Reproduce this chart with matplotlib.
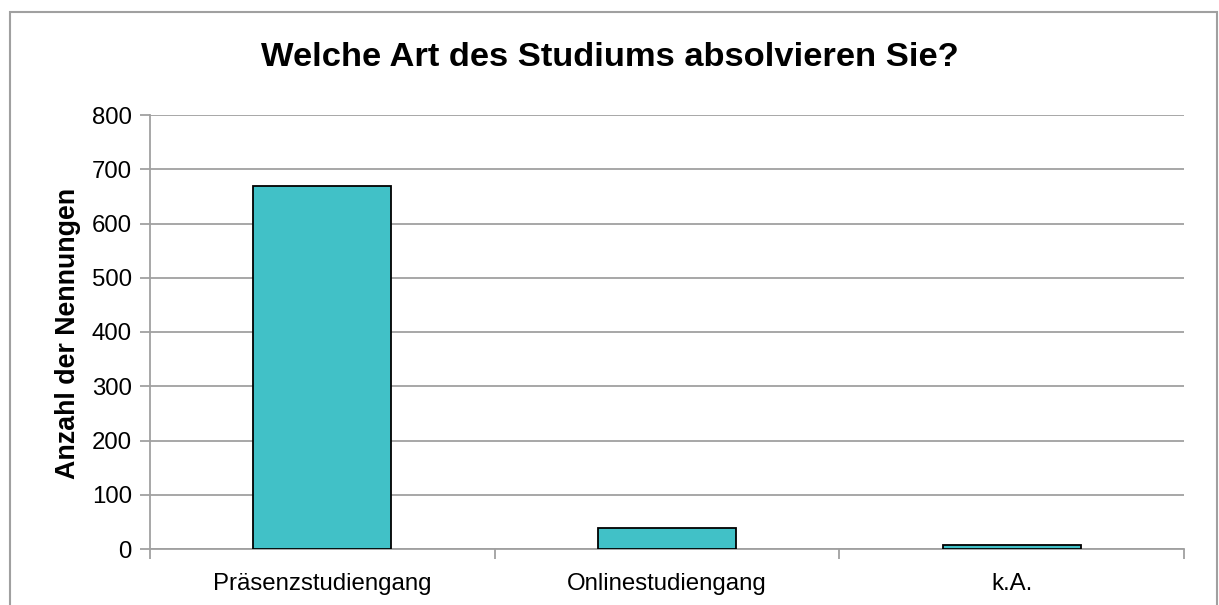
import matplotlib
matplotlib.use("Agg")
import matplotlib.pyplot as plt
from matplotlib.patches import Rectangle

categories = ["Präsenzstudiengang", "Onlinestudiengang", "k.A."]
values = [670, 38, 8]
yticks = [0, 100, 200, 300, 400, 500, 600, 700, 800]

plt.rcParams['font.family'] = ['Liberation Sans', 'DejaVu Sans']

W, H = 1219, 605
fig = plt.figure(figsize=(W / 100, H / 100), dpi=100)
ax = fig.add_axes([150 / W, 1 - 549 / H, (1184 - 150) / W, (549 - 115) / H])

# figure border
fig.patches.append(Rectangle((10 / W, -0.01), (1217 - 10) / W, 1 - 12 / H + 0.01,
                             transform=fig.transFigure, fill=False,
                             edgecolor='#a0a0a0', linewidth=1.5))

x = list(range(len(categories)))
ax.bar(x, values, width=0.4, color='#41C1C7', edgecolor='black', linewidth=1.3, zorder=3)

ax.set_xlim(-0.5, len(categories) - 0.5)
ax.set_ylim(0, 800)
ax.set_yticks(yticks)
ax.set_yticklabels([str(v) for v in yticks], fontsize=17.3)
ax.yaxis.grid(True, color='#a0a0a0', linewidth=1.3, zorder=0)
ax.set_axisbelow(True)

ax.set_xticks(x)
ax.set_xticklabels(categories, fontsize=17.3)
ax.tick_params(axis='x', length=0, pad=17)
ax.set_xticks([i - 0.5 for i in range(len(categories) + 1)], minor=True)
ax.tick_params(axis='x', which='minor', length=7, color='#a0a0a0', width=1.3)
ax.tick_params(axis='y', length=7, color='#a0a0a0', width=1.3, pad=6)

for s in ['top', 'right']:
    ax.spines[s].set_visible(False)
for s in ['left', 'bottom']:
    ax.spines[s].set_color('#a0a0a0')
    ax.spines[s].set_linewidth(1.3)

fig.text(68 / W, 1 - 333 / H, "Anzahl der Nennungen", rotation=90,
         ha='center', va='center', fontsize=19.3, fontweight='bold')
fig.text(0.5, 1 - 58 / H, "Welche Art des Studiums absolvieren Sie?",
         ha='center', va='center', fontsize=24.8, fontweight='bold')

fig.savefig("out.png", dpi=100)
